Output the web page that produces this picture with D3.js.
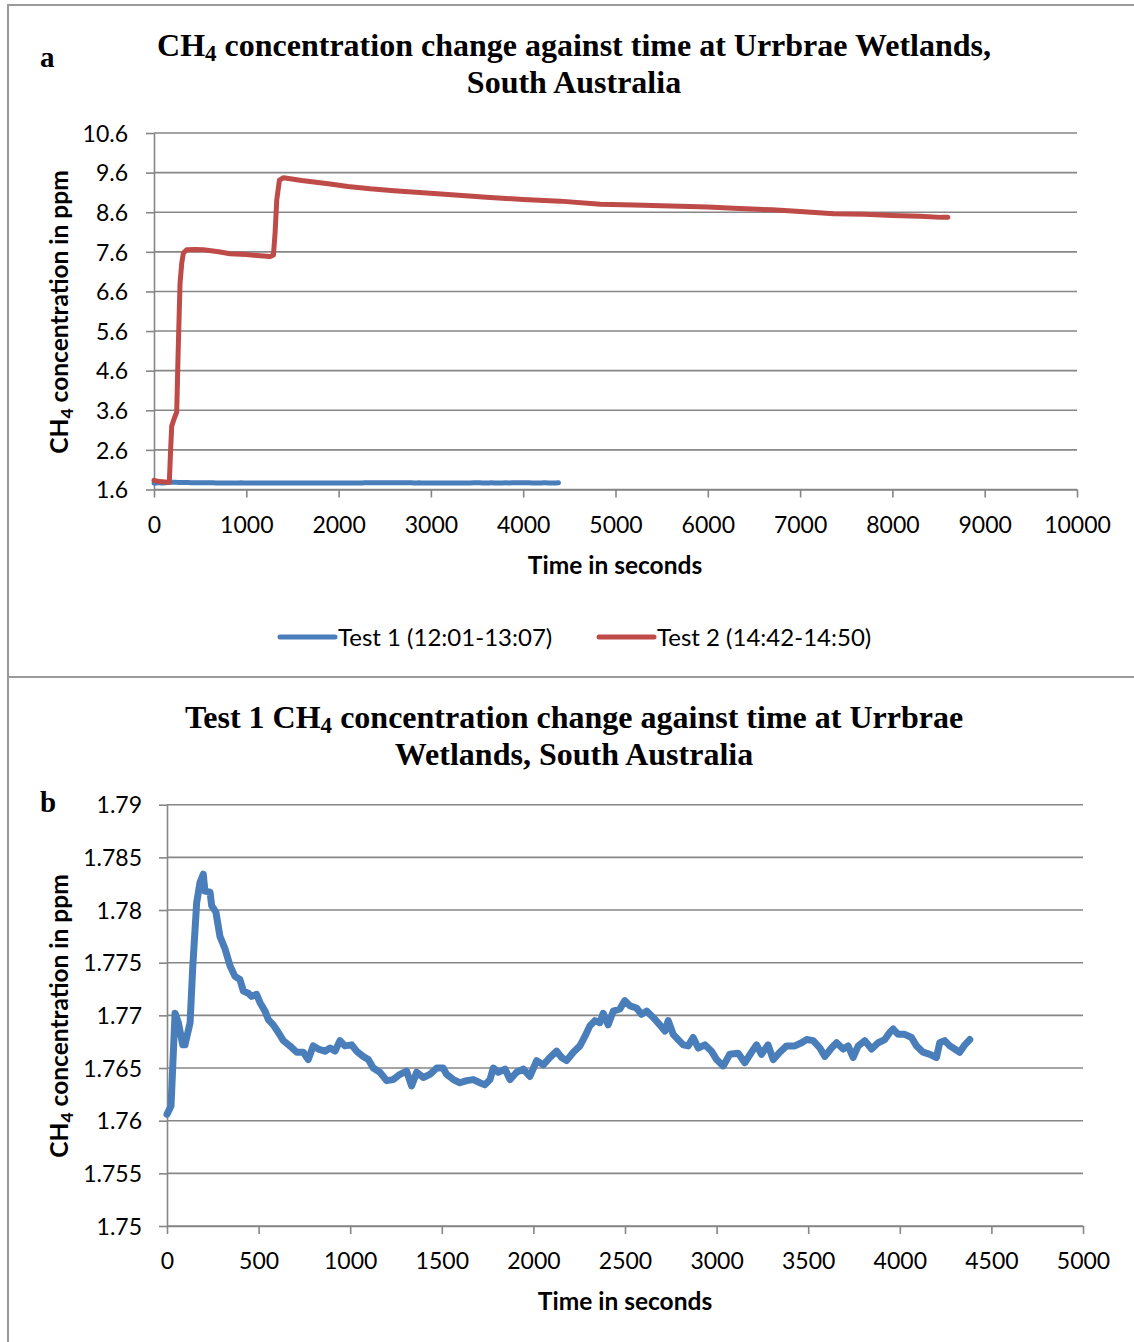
<!DOCTYPE html>
<html>
<head>
<meta charset="utf-8">
<script src="https://cdn.jsdelivr.net/npm/d3@7"></script>
<style>
  html, body { margin: 0; padding: 0; background: #fff; }
  svg { display: block; }
  .tick text { font-family: Lato, "Open Sans", sans-serif; font-size: 23px; fill: #000; }
</style>
</head>
<body>
<svg id="chart" width="1134" height="1342"></svg>
<script>
// ---------------- DATA ----------------
// Test 1 (12:01-13:07) – time (s) and CH4 (ppm)
const test1Time = [0, 22, 44, 62, 86, 98, 126, 140, 162, 180, 198, 207, 235, 244, 267, 289, 317, 344, 371, 398,
  417, 444, 462, 489, 508, 535, 553, 580, 607, 635, 671, 708, 744, 771, 798, 826, 862, 890, 917, 944,
  971, 1008, 1035, 1071, 1099, 1126, 1162, 1199, 1235, 1272, 1308, 1335, 1363, 1399, 1435, 1472, 1508, 1526, 1563, 1599,
  1636, 1672, 1708, 1735, 1763, 1781, 1808, 1845, 1872, 1908, 1945, 1981, 2018, 2054, 2090, 2127, 2154, 2181, 2218, 2254,
  2281, 2308, 2336, 2363, 2381, 2408, 2436, 2472, 2499, 2527, 2563, 2590, 2618, 2654, 2690, 2718, 2736, 2763, 2790, 2818,
  2845, 2872, 2900, 2936, 2972, 3000, 3036, 3072, 3118, 3154, 3191, 3218, 3245, 3281, 3309, 3345, 3382, 3427, 3464, 3491,
  3527, 3564, 3591, 3627, 3655, 3691, 3718, 3745, 3773, 3809, 3846, 3882, 3918, 3946, 3964, 3991, 4027, 4064, 4091, 4127,
  4164, 4200, 4218, 4245, 4273, 4300, 4327, 4355, 4382];
const test1Ch4 = [1.7606, 1.7614, 1.7702, 1.7693, 1.7672, 1.7672, 1.7693, 1.7744, 1.7807, 1.7826, 1.7834, 1.7818, 1.7817, 1.7804, 1.7798, 1.7775, 1.7763, 1.7747, 1.7737, 1.7734,
  1.7723, 1.7721, 1.7718, 1.7720, 1.7712, 1.7704, 1.7696, 1.7691, 1.7684, 1.7676, 1.7671, 1.7665, 1.7665, 1.7658, 1.7671, 1.7668, 1.7666, 1.7669, 1.7666, 1.7676,
  1.7671, 1.7672, 1.7666, 1.7661, 1.7658, 1.7650, 1.7646, 1.7638, 1.7639, 1.7644, 1.7647, 1.7633, 1.7646, 1.7641, 1.7644, 1.7650, 1.7650, 1.7644, 1.7639, 1.7636,
  1.7638, 1.7639, 1.7636, 1.7634, 1.7639, 1.7650, 1.7646, 1.7649, 1.7639, 1.7646, 1.7649, 1.7642, 1.7657, 1.7653, 1.7660, 1.7666, 1.7660, 1.7657, 1.7665, 1.7671,
  1.7680, 1.7690, 1.7695, 1.7693, 1.7702, 1.7691, 1.7704, 1.7706, 1.7714, 1.7709, 1.7707, 1.7701, 1.7704, 1.7698, 1.7691, 1.7685, 1.7695, 1.7682, 1.7677, 1.7672,
  1.7671, 1.7679, 1.7669, 1.7672, 1.7666, 1.7658, 1.7652, 1.7663, 1.7664, 1.7655, 1.7665, 1.7672, 1.7663, 1.7672, 1.7658, 1.7665, 1.7671, 1.7671, 1.7674, 1.7677,
  1.7676, 1.7669, 1.7661, 1.7669, 1.7674, 1.7668, 1.7671, 1.7660, 1.7671, 1.7676, 1.7668, 1.7674, 1.7677, 1.7684, 1.7687, 1.7682, 1.7682, 1.7679, 1.7671, 1.7665,
  1.7663, 1.7660, 1.7674, 1.7676, 1.7671, 1.7668, 1.7665, 1.7672, 1.7677];

// Test 2 (14:42-14:50)
const test2Time = [0, 60, 120, 166, 180, 192, 220, 246, 262, 282, 300, 318, 354, 450, 535, 700, 824, 1000, 1150, 1258,
  1294, 1312, 1330, 1359, 1403, 1600, 1909, 2100, 2343, 2600, 2993, 3300, 3600, 4000, 4400, 4837, 5200, 5600, 6000, 6280,
  6700, 7000, 7365, 7700, 8000, 8300, 8525, 8600];
const test2Ch4 = [1.83, 1.80, 1.79, 1.78, 2.6, 3.2, 3.4, 3.55, 5.1, 6.8, 7.3, 7.57, 7.65, 7.66, 7.65, 7.6, 7.55, 7.53, 7.5, 7.48,
  7.52, 8.08, 8.91, 9.41, 9.47, 9.4, 9.31, 9.25, 9.19, 9.14, 9.08, 9.03, 8.98, 8.92, 8.88, 8.8, 8.78, 8.76, 8.73, 8.7,
  8.66, 8.62, 8.56, 8.55, 8.52, 8.5, 8.47, 8.47];

// Axis ticks
const xTicksA = [0, 1000, 2000, 3000, 4000, 5000, 6000, 7000, 8000, 9000, 10000];
const yTicksA = [1.6, 2.6, 3.6, 4.6, 5.6, 6.6, 7.6, 8.6, 9.6, 10.6];
const xTicksB = [0, 500, 1000, 1500, 2000, 2500, 3000, 3500, 4000, 4500, 5000];
const yTicksB = [1.75, 1.755, 1.76, 1.765, 1.77, 1.775, 1.78, 1.785, 1.79];
const yTickLabelsB = ["1.75", "1.755", "1.76", "1.765", "1.77", "1.775", "1.78", "1.785", "1.79"];

const seriesNames = ["Test 1 (12:01-13:07)", "Test 2 (14:42-14:50)"];
const seriesColors = ["#4A7EBB", "#BE4B48"];

// ---------------- DRAW ----------------
const svg = d3.select("#chart");
const GRID = "#868686";
const SANS = "Lato, 'Open Sans', sans-serif";
const SERIF = "'Liberation Serif', 'Times New Roman', serif";

// frame
svg.append("line").attr("x1", 8).attr("x2", 1134).attr("y1", 5).attr("y2", 5).attr("stroke", "#9a9a9a").attr("stroke-width", 2);
svg.append("line").attr("x1", 8).attr("x2", 8).attr("y1", 4).attr("y2", 1342).attr("stroke", "#9a9a9a").attr("stroke-width", 2);
svg.append("line").attr("x1", 8).attr("x2", 1134).attr("y1", 677).attr("y2", 677).attr("stroke", "#9a9a9a").attr("stroke-width", 2);

function ch4Text(sel, before, after, subDy) {
  sel.append("tspan").text(before + "CH");
  sel.append("tspan").attr("font-size", "0.72em").attr("dy", subDy).text("4");
  sel.append("tspan").attr("dy", -subDy).text(after);
}

function drawPanel(opt) {
  const x = d3.scaleLinear().domain(opt.xDomain).range(opt.xRange);
  const y = d3.scaleLinear().domain(opt.yDomain).range(opt.yRange);
  const g = svg.append("g");

  // gridlines
  g.selectAll(".grid").data(opt.yTicks).join("line")
    .attr("x1", opt.xRange[0]).attr("x2", opt.xRange[1])
    .attr("y1", d => y(d)).attr("y2", d => y(d))
    .attr("stroke", GRID).attr("stroke-width", 1.6);

  // y axis
  const ya = g.append("g").attr("transform", `translate(${opt.xRange[0]},0)`)
    .call(d3.axisLeft(y).tickValues(opt.yTicks).tickSize(8).tickSizeOuter(0)
      .tickFormat((d, i) => opt.yLabels[i]));
  ya.select(".domain").attr("stroke", GRID).attr("stroke-width", 1.6);
  ya.selectAll(".tick line").attr("stroke", GRID).attr("stroke-width", 1.6);
  ya.selectAll(".tick text").attr("x", opt.yLabelX).attr("dy", "0.36em");

  // x axis
  const xa = g.append("g").attr("transform", `translate(0,${opt.yRange[0]})`)
    .call(d3.axisBottom(x).tickValues(opt.xTicks).tickSize(8).tickSizeOuter(0).tickFormat(d3.format("d")));
  xa.select(".domain").attr("stroke", GRID).attr("stroke-width", 1.6);
  xa.selectAll(".tick line").attr("stroke", GRID).attr("stroke-width", 1.6);
  xa.selectAll(".tick text").attr("y", 43).attr("dy", 0);

  // lines
  const line = d3.line().x(d => x(d[0])).y(d => y(d[1]));
  opt.series.forEach(s => {
    const pts = s.t.map((t, i) => [t, s.v[i]]);
    g.append("path").datum(pts)
      .attr("d", line)
      .attr("fill", "none")
      .attr("stroke", s.color)
      .attr("stroke-width", opt.lineWidth)
      .attr("stroke-linejoin", "round")
      .attr("stroke-linecap", "round");
  });

  // axis titles
  g.append("text").attr("x", opt.xTitle[0]).attr("y", opt.xTitle[1])
    .attr("text-anchor", "middle").attr("font-family", SANS).attr("font-weight", "bold")
    .attr("font-size", 24.5).text("Time in seconds");
  const yt = g.append("text")
    .attr("transform", `translate(${opt.yTitle[0]},${opt.yTitle[1]}) rotate(-90)`)
    .attr("text-anchor", "middle").attr("font-family", SANS).attr("font-weight", "bold")
    .attr("font-size", 24.5);
  ch4Text(yt, "", " concentration in ppm", 5);
  return g;
}

// Panel a
drawPanel({
  xDomain: [0, 10000], xRange: [154, 1077],
  yDomain: [1.6, 10.6], yRange: [489.5, 133],
  xTicks: xTicksA, yTicks: yTicksA, yLabels: yTicksA.map(d => d.toFixed(1)),
  yLabelX: -26,
  lineWidth: 5,
  series: [
    { t: test1Time, v: test1Ch4, color: seriesColors[0] },
    { t: test2Time, v: test2Ch4, color: seriesColors[1] }
  ],
  xTitle: [615, 574], yTitle: [68, 312]
});

// Panel b
drawPanel({
  xDomain: [0, 5000], xRange: [167, 1083],
  yDomain: [1.75, 1.79], yRange: [1226, 804.7],
  xTicks: xTicksB, yTicks: yTicksB, yLabels: yTickLabelsB,
  yLabelX: -25,
  lineWidth: 7,
  series: [{ t: test1Time, v: test1Ch4, color: seriesColors[0] }],
  xTitle: [625, 1310], yTitle: [68, 1016]
});

// titles
function title(lines, y0, lh) {
  lines.forEach((ln, i) => {
    const t = svg.append("text").attr("x", 574).attr("y", y0 + i * lh)
      .attr("text-anchor", "middle").attr("font-family", SERIF)
      .attr("font-weight", "bold").attr("font-size", 32);
    if (ln.ch4) ch4Text(t, ln.before, ln.after, 5);
    else t.text(ln.text);
  });
}
title([{ ch4: true, before: "", after: " concentration change against time at Urrbrae Wetlands," },
       { text: "South Australia" }], 56, 37);
title([{ ch4: true, before: "Test 1 ", after: " concentration change against time at Urrbrae" },
       { text: "Wetlands, South Australia" }], 728, 37);

svg.append("text").attr("x", 40).attr("y", 67).attr("font-family", SERIF).attr("font-weight", "bold").attr("font-size", 29).text("a");
svg.append("text").attr("x", 40).attr("y", 812).attr("font-family", SERIF).attr("font-weight", "bold").attr("font-size", 29).text("b");

// legend
const legendX = [280, 599];
seriesNames.forEach((name, i) => {
  const lg = svg.append("g").attr("transform", `translate(${legendX[i]},637)`);
  lg.append("line").attr("x1", 0).attr("x2", 55).attr("y1", 0).attr("y2", 0)
    .attr("stroke", seriesColors[i]).attr("stroke-width", 5).attr("stroke-linecap", "round");
  lg.append("text").attr("x", 58).attr("y", 0).attr("dy", "0.36em")
    .attr("font-family", SANS).attr("font-size", 24).text(name);
});
</script>
</body>
</html>
